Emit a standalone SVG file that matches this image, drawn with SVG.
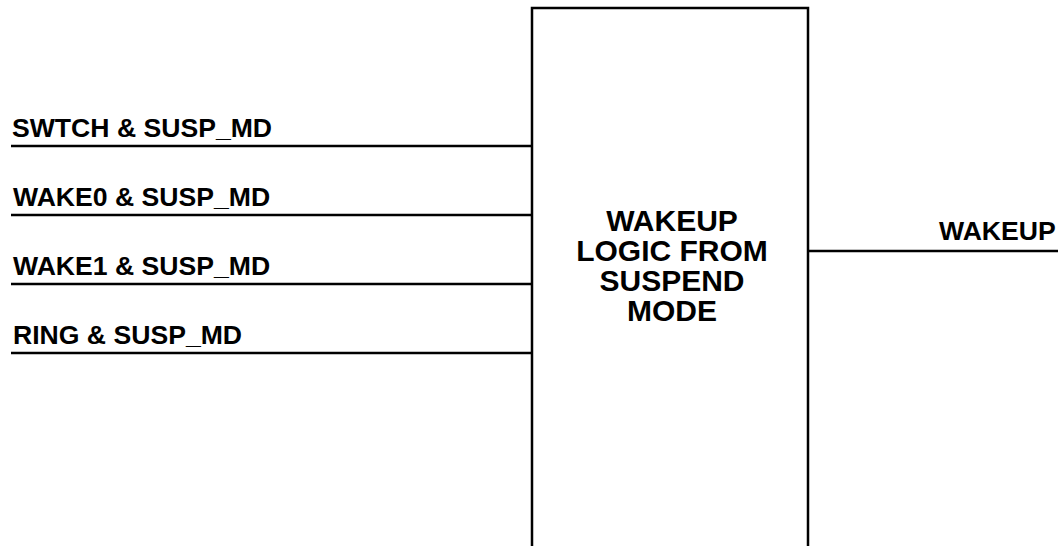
<svg xmlns="http://www.w3.org/2000/svg" width="1058" height="546" viewBox="0 0 1058 546">
<style>
.lbl{font-family:"Liberation Sans",Arial,sans-serif;font-weight:bold;font-size:26.6px;fill:#000}
.box{font-family:"Liberation Sans",Arial,sans-serif;font-weight:bold;font-size:30px;fill:#000;text-anchor:middle}
.w{stroke:#000;stroke-width:2.5;fill:none}
</style>
<rect width="1058" height="546" fill="#fff"/>
<g id="connectors">
<line class="w" x1="11" y1="146" x2="532" y2="146"/>
<line class="w" x1="11" y1="215" x2="532" y2="215"/>
<line class="w" x1="11" y1="284" x2="532" y2="284"/>
<line class="w" x1="11" y1="353" x2="532" y2="353"/>
<line class="w" x1="808" y1="251" x2="1058" y2="251"/>
</g>
<g id="in-swtch"><text class="lbl" x="12" y="137">SWTCH &amp; SUSP_MD</text></g>
<g id="in-wake0"><text class="lbl" x="13" y="206">WAKE0 &amp; SUSP_MD</text></g>
<g id="in-wake1"><text class="lbl" x="13" y="275">WAKE1 &amp; SUSP_MD</text></g>
<g id="in-ring"><text class="lbl" x="13" y="344">RING &amp; SUSP_MD</text></g>
<g id="logic">
<path class="w" d="M532,560 V8 H808 V560"/>
<text class="box" x="672" y="230.5">WAKEUP</text>
<text class="box" x="672" y="260.5">LOGIC FROM</text>
<text class="box" x="672" y="290.5">SUSPEND</text>
<text class="box" x="672" y="320.5">MODE</text>
</g>
<g id="out-wakeup"><text class="lbl" x="939" y="240">WAKEUP</text></g>
</svg>
